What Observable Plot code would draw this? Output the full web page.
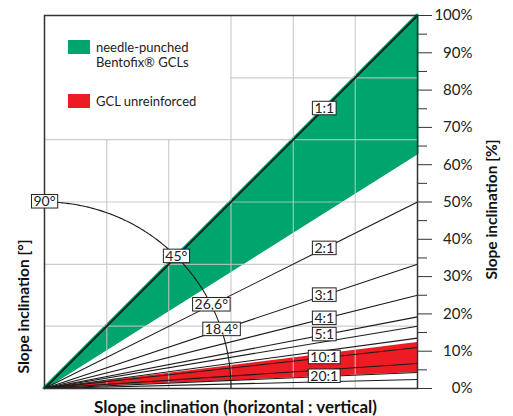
<!DOCTYPE html>
<html><head><meta charset="utf-8">
<script src="https://cdn.jsdelivr.net/npm/d3@7"></script>
<script src="https://cdn.jsdelivr.net/npm/@observablehq/plot@0.6"></script>
<style>
body{margin:0;background:#fff;font-family:Lato,sans-serif;}
#wrap{position:relative;width:513px;height:416px;overflow:hidden;}
.legend{position:absolute;font-size:13px;line-height:15px;color:#222;}
.sw{position:absolute;width:22px;height:14px;}
.lt{position:absolute;white-space:nowrap;}
</style></head><body><div id="wrap"></div>
<script>
// ---- data ----
const ratioLabels = ["1:1", "2:1", "3:1", "4:1", "5:1", "", "", "10:1", "", "20:1", ""];
const ratioEndPct = [100, 50, 33.3, 25, 19.2, 16.7, 13.5, 11, 6.7, 4.3, 2.4]; // rise at right edge
const angleLabels = ["90°", "45°", "26,6°", "18,4°"];
const angleDeg = [90, 45, 26.6, 18.4];
const greenBand = [{x: 0, lo: 0, hi: 0}, {x: 100, lo: 63, hi: 100}];
const redBand = [{x: 0, lo: 0, hi: 0}, {x: 100, lo: 4.3, hi: 12.3}];
const yTicks = [0, 10, 20, 30, 40, 50, 60, 70, 80, 90, 100];
const yMinorTicks = [5, 15, 25, 35, 45, 55, 65, 75, 85, 95];
const gridX = [16.7, 33.3, 50, 66.7, 83.3];
const gridY = [16.7, 33.3, 50, 66.7, 83.3];
const legendArea = {xMax: 50, yMin: 66.7};
const arcRadius = 50;
const ratioLabelX = 75;
const legendItems = [
  {label: ["needle-punched", "Bentofix® GCLs"], color: "#00a56e"},
  {label: ["GCL unreinforced"], color: "#ed1c24"}
];

const GREEN = legendItems[0].color, RED = legendItems[1].color, INK = "#1a1a1a";

const lines = ratioEndPct.map((p, i) => ({pct: p, label: ratioLabels[i]}));
const boxedRatios = lines.filter(d => d.label !== "").map(d => ({x: ratioLabelX, y: d.pct * ratioLabelX / 100, label: d.label}));
const arcPts = d3.range(0, 90.01, 0.5).map(a => ({x: arcRadius * Math.cos(a * Math.PI / 180), y: arcRadius * Math.sin(a * Math.PI / 180)}));
const boxedAngles = angleDeg.map((a, i) => ({x: arcRadius * Math.cos(a * Math.PI / 180), y: arcRadius * Math.sin(a * Math.PI / 180), label: angleLabels[i]}));
const boxedSet = new Set([...boxedRatios, ...boxedAngles].map(d => d.label));

const plot = Plot.plot({
  width: 513, height: 416,
  marginLeft: 44, marginRight: 96, marginTop: 15, marginBottom: 28,
  x: {domain: [0, 100], axis: null},
  y: {domain: [0, 100], axis: null},
  style: {fontFamily: "Lato, sans-serif", fontSize: "15px", background: "white", color: "#222", overflow: "visible"},
  marks: [
    Plot.areaY(greenBand, {x: "x", y1: "lo", y2: "hi", fill: GREEN, stroke: GREEN, strokeWidth: 3}),
    Plot.areaY(redBand, {x: "x", y1: "lo", y2: "hi", fill: RED}),
    Plot.ruleX(gridX, {x: d => d, y1: 0, y2: d => d < legendArea.xMax ? legendArea.yMin : 100, stroke: "#c4c4c4", strokeOpacity: 0.85, strokeWidth: 1.2}),
    Plot.ruleY(gridY, {y: d => d, x1: d => d > legendArea.yMin ? legendArea.xMax : 0, x2: 100, stroke: "#c4c4c4", strokeOpacity: 0.85, strokeWidth: 1.2}),
    Plot.link(lines, {x1: 0, y1: 0, x2: 100, y2: "pct", stroke: INK, strokeWidth: d => d.pct === 100 ? 1.8 : 1.1}),
    Plot.line(arcPts, {x: "x", y: "y", stroke: INK, strokeWidth: 1.1}),
    Plot.frame({stroke: "#333", strokeWidth: 1.5}),
    Plot.axisY(yTicks, {anchor: "right", tickSize: 14, tickPadding: 41, textAnchor: "end", tickFormat: d => d + "%", label: null, stroke: "#333", fill: "#222", fontSize: 15}),
    Plot.axisY(yMinorTicks, {anchor: "right", tickSize: 9, tickFormat: () => "", label: null, stroke: "#333"}),
    Plot.text(boxedRatios, {x: "x", y: "y", text: "label", fontSize: 14, fill: "#222"}),
    Plot.text(boxedAngles, {x: "x", y: "y", text: "label", fontSize: 14, fill: "#222"}),
    Plot.text(["Slope inclination (horizontal : vertical)"], {x: () => 51.2, y: () => 0, dy: 19, fontWeight: "bold", fontSize: 17, fill: "#111"}),
    Plot.text(["Slope inclination [°]"], {x: () => 0, y: () => 22, dx: -20.5, rotate: -90, fontWeight: "bold", fontSize: 15.5, fill: "#111"}),
    Plot.text(["Slope inclination [%]"], {x: () => 100, y: () => 48, dx: 75, rotate: -90, fontWeight: "bold", fontSize: 15.5, fill: "#111"})
  ]
});

const wrap = document.getElementById("wrap");
wrap.append(plot);

// white boxes with a thin border behind the boxed labels
const NS = "http://www.w3.org/2000/svg";
Array.from(plot.querySelectorAll("text")).filter(t => boxedSet.has(t.textContent)).forEach(t => {
  const bb = t.getBBox();
  const h = 13.5, padX = 2;
  const r = document.createElementNS(NS, "rect");
  r.setAttribute("x", bb.x - padX);
  r.setAttribute("y", bb.y + bb.height / 2 - h / 2 + 0.3);
  r.setAttribute("width", bb.width + 2 * padX);
  r.setAttribute("height", h);
  r.setAttribute("fill", "white");
  r.setAttribute("stroke", "#222");
  r.setAttribute("stroke-width", 1);
  const tr = t.getAttribute("transform");
  if (tr) r.setAttribute("transform", tr);
  t.parentNode.insertBefore(r, t);
});

// legend (HTML, over the blank top-left part of the plot)
const legendTops = [40, 94];
legendItems.forEach((item, i) => {
  const sw = document.createElement("div");
  sw.className = "sw";
  sw.style.left = "68px"; sw.style.top = legendTops[i] + "px"; sw.style.background = item.color;
  wrap.append(sw);
  const lt = document.createElement("div");
  lt.className = "legend lt";
  lt.style.left = "96px"; lt.style.top = (legendTops[i] + 0) + "px";
  lt.innerHTML = item.label.join("<br>");
  wrap.append(lt);
});
</script></body></html>
